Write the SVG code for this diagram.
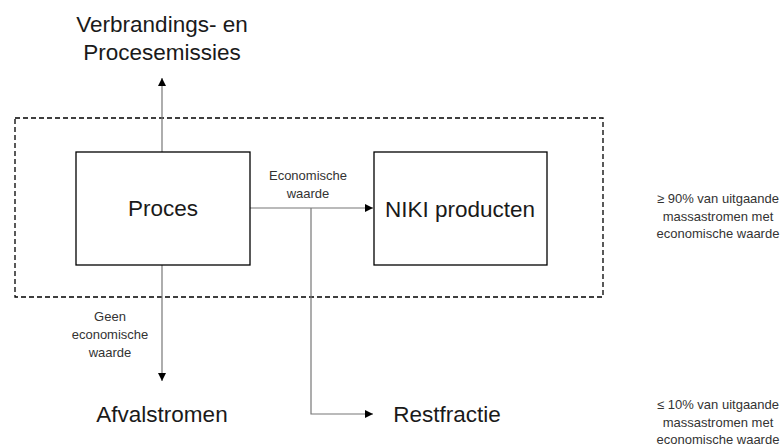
<svg xmlns="http://www.w3.org/2000/svg" width="784" height="445" viewBox="0 0 784 445">
  <defs>
    <marker id="arrow" viewBox="0 0 10 10" refX="10" refY="5" markerWidth="8" markerHeight="8" markerUnits="userSpaceOnUse" orient="auto">
      <path d="M0,0 L10,5 L0,10 z" fill="#000"/>
    </marker>
    <style>
      text { font-family: "Liberation Sans", "DejaVu Sans", sans-serif; fill: #1a1a1a; text-anchor: middle; }
      .big { font-size: 22.5px; }
      .small { font-size: 13px; fill: #333; }
      .box { fill: #fff; stroke: #000; stroke-width: 1.3; }
      .flow { fill: none; stroke: #777; stroke-width: 1.2; }
      .frame { fill: none; stroke: #000; stroke-width: 1.3; stroke-dasharray: 5 3; }
    </style>
  </defs>
  <rect width="784" height="445" fill="#fff"/>

  <!-- system boundary -->
  <rect class="frame" x="15" y="118" width="588" height="179"/>

  <g id="connectors">
    <line class="flow" x1="162" y1="152" x2="162" y2="78" marker-end="url(#arrow)"/>
    <line class="flow" x1="250" y1="208" x2="373" y2="208" marker-end="url(#arrow)"/>
    <polyline class="flow" points="311,208 311,414 373,414" marker-end="url(#arrow)"/>
    <line class="flow" x1="162" y1="265" x2="162" y2="381" marker-end="url(#arrow)"/>
  </g>

  <g id="proces">
    <rect class="box" x="76" y="152" width="174" height="113"/>
    <text class="big" x="163" y="216">Proces</text>
  </g>

  <g id="niki-producten">
    <rect class="box" x="374" y="152" width="173" height="113"/>
    <text class="big" x="460" y="217">NIKI producten</text>
  </g>

  <g id="emissies">
    <text class="big" x="162" y="32">Verbrandings- en</text>
    <text class="big" x="162" y="60">Procesemissies</text>
  </g>

  <g id="afvalstromen">
    <text class="big" x="162" y="422">Afvalstromen</text>
  </g>

  <g id="restfractie">
    <text class="big" x="447" y="422">Restfractie</text>
  </g>

  <g id="labels">
    <text class="small" x="308" y="180">Economische</text>
    <text class="small" x="308" y="198">waarde</text>
    <text class="small" x="110" y="321">Geen</text>
    <text class="small" x="110" y="339">economische</text>
    <text class="small" x="110" y="357">waarde</text>
  </g>

  <g id="aandeel-90">
    <text class="small" x="718" y="203">≥ 90% van uitgaande</text>
    <text class="small" x="718" y="221">massastromen met</text>
    <text class="small" x="718" y="238">economische waarde</text>
  </g>

  <g id="aandeel-10">
    <text class="small" x="718" y="409">≤ 10% van uitgaande</text>
    <text class="small" x="718" y="427">massastromen met</text>
    <text class="small" x="718" y="444">economische waarde</text>
  </g>
</svg>
